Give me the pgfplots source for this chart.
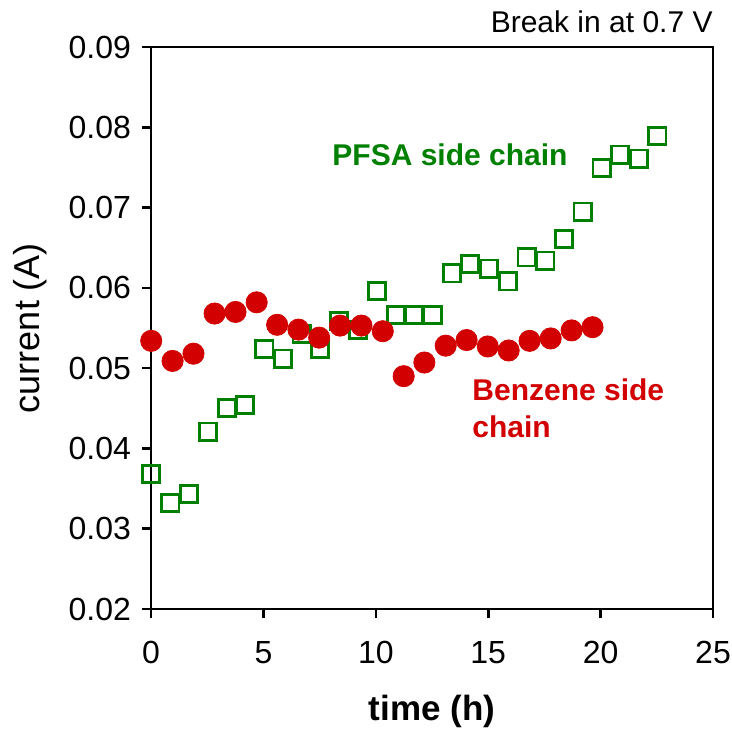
\documentclass[border=0pt]{standalone}
\usepackage{fontspec}
\setmainfont{Liberation Sans}
\usepackage{pgfplots}
\pgfplotsset{compat=1.18}
\definecolor{pgreen}{RGB}{0,128,0}
\definecolor{bred}{RGB}{210,0,0}
\begin{document}
\begin{tikzpicture}
\begin{axis}[
  name=ax,
  scale only axis,
  width=281pt, height=281pt,
  xmin=0, xmax=25, ymin=0.02, ymax=0.09,
  xtick={0,5,10,15,20,25},
  ytick={0.02,0.03,0.04,0.05,0.06,0.07,0.08,0.09},
  xtick pos=bottom, ytick pos=left,
  tick align=outside,
  major tick length=4.5pt,
  every tick/.style={black, line width=1.3pt},
  axis line style={line width=1.3pt},
  /pgf/number format/assume math mode=true,
  yticklabel style={/pgf/number format/fixed, /pgf/number format/fixed zerofill, /pgf/number format/precision=2, font=\fontsize{16}{18}\selectfont, xshift=-2pt},
  xticklabel style={font=\fontsize{16}{18}\selectfont, yshift=-8pt},
  scaled y ticks=false,
  xlabel={\textbf{time (h)}},
  ylabel={current (A)},
  xlabel style={font=\fontsize{17.5}{20}\selectfont, at={(axis description cs:0.5,0)}, anchor=center, yshift=-51pt},
  ylabel style={font=\fontsize{18}{20}\selectfont, at={([xshift=-60.5pt]axis description cs:0,0.5)}, anchor=center},
  clip=false,
]
\addplot[only marks, mark=square, mark size=4.3pt, draw=pgreen, mark options={line width=1.4pt, fill=white}] coordinates {
(0.01,0.0368) (0.86,0.0332) (1.69,0.0343) (2.53,0.0421) (3.38,0.0450) (4.19,0.0454)
(5.04,0.0524) (5.87,0.0512) (6.70,0.0543) (7.52,0.0524) (8.37,0.0559) (9.20,0.0548)
(10.04,0.0596) (10.89,0.0566) (11.70,0.0566) (12.53,0.0566) (13.38,0.0618) (14.20,0.0630)
(15.04,0.0624) (15.87,0.0608) (16.71,0.0638) (17.54,0.0634) (18.37,0.0661) (19.20,0.0695)
(20.04,0.0749) (20.87,0.0766) (21.70,0.0761) (22.53,0.0789)
};
\addplot[only marks, mark=*, mark size=5.3pt, color=bred, mark options={draw=none, fill=bred}] coordinates {
(0.01,0.0534) (0.96,0.0509) (1.89,0.0518) (2.83,0.0568) (3.76,0.0570) (4.70,0.0582)
(5.61,0.0554) (6.56,0.0548) (7.48,0.0538) (8.41,0.0553) (9.36,0.0553) (10.31,0.0546)
(11.24,0.0490) (12.16,0.0507) (13.11,0.0528) (14.04,0.0535) (14.98,0.0527) (15.91,0.0522)
(16.84,0.0534) (17.78,0.0537) (18.71,0.0547) (19.64,0.0551)
};
\node[text=pgreen, font=\bfseries\fontsize{15}{18}\selectfont, anchor=center] at (axis cs:13.3,0.0766) {PFSA side chain};
\node[text=bred, font=\bfseries\fontsize{15}{18.5}\selectfont, anchor=west, align=left, inner sep=0pt] at (axis cs:14.28,0.0450) {Benzene side\\chain};
\node[font=\fontsize{15}{18}\selectfont, anchor=east, inner sep=0pt, yshift=12.5pt] at (rel axis cs:1,1) {Break in at 0.7 V};
\end{axis}
\pgfresetboundingbox
\useasboundingbox ([xshift=-75.5pt,yshift=-60pt]ax.south west) rectangle ([xshift=9.5pt,yshift=23.5pt]ax.north east);
\end{tikzpicture}
\end{document}
